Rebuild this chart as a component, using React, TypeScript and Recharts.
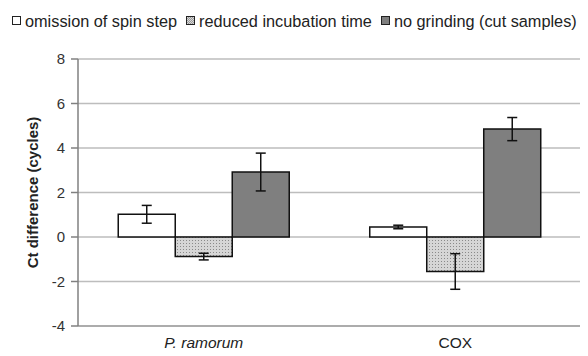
import React from 'react';
import { BarChart, Bar, XAxis, YAxis, CartesianGrid, ErrorBar, Label } from 'recharts';

const categories = ['P. ramorum', 'COX'];
const spinStep = [1.02, 0.45];
const spinStepErr = [0.4, 0.08];
const incubation = [-0.88, -1.55];
const incubationErr = [0.15, 0.8];
const grinding = [2.92, 4.85];
const grindingErr = [0.85, 0.52];
const yTicks = [-4, -2, 0, 2, 4, 6, 8];
const legendLabels = ['omission of spin step', 'reduced incubation time', 'no grinding (cut samples)'];

const data = categories.map((name, i) => ({
  name,
  spin: spinStep[i],
  spinErr: spinStepErr[i],
  incub: incubation[i],
  incubErr: incubationErr[i],
  grind: grinding[i],
  grindErr: grindingErr[i],
}));

const FONT = '"Liberation Sans", Arial, Helvetica, sans-serif';

const CategoryTick = (props: any) => {
  const { x, y, payload } = props;
  const italic = payload.value === 'P. ramorum';
  return (
    <text
      x={x}
      y={y + 14}
      textAnchor="middle"
      fontSize={15.5}
      fontFamily={FONT}
      fontStyle={italic ? 'italic' : 'normal'}
      fill="#222"
    >
      {payload.value}
    </text>
  );
};

const swatch = (bg: string) => ({
  display: 'inline-block',
  width: 7,
  height: 7,
  border: '1.5px solid #222',
  background: bg,
  marginRight: 4,
  verticalAlign: 'middle',
});

const dotted = 'repeating-conic-gradient(#9a9a9a 0% 25%, #d8d8d8 0% 50%) 0 0 / 2px 2px';

const App: React.FC = () => {
  return (
    <div style={{ position: 'relative', width: 588, height: 356, margin: -8, background: '#fff', fontFamily: FONT }}>
      <div
        style={{
          position: 'absolute',
          top: 10,
          left: 12,
          fontSize: 16.3,
          color: '#222',
          whiteSpace: 'nowrap',
          lineHeight: '18px',
        }}
      >
        {legendLabels.map((l, i) => (
          <span key={l} style={{ marginRight: 9 }}>
            <span style={swatch(i === 0 ? '#fff' : i === 1 ? dotted : '#7f7f7f')} />
            <span style={{ verticalAlign: 'middle' }}>{l}</span>
          </span>
        ))}
      </div>
      <BarChart
        width={588}
        height={356}
        data={data}
        margin={{ top: 59, right: 7, left: 0, bottom: 0 }}
        barCategoryGap="16%"
        barGap={0}
      >
        <defs>
          <pattern id="dots" width="3" height="3" patternUnits="userSpaceOnUse">
            <rect width="3" height="3" fill="#d6d6d6" />
            <rect width="1" height="1" fill="#8a8a8a" />
          </pattern>
        </defs>
        <CartesianGrid vertical={false} stroke="#bdbdbd" strokeWidth={1.5} />
        <XAxis
          dataKey="name"
          height={30}
          axisLine={{ stroke: '#a0a0a0', strokeWidth: 1.5 }}
          tickLine={false}
          tick={<CategoryTick />}
        />
        <YAxis
          width={78}
          domain={[-4, 8]}
          ticks={yTicks}
          axisLine={{ stroke: '#808080', strokeWidth: 1.5 }}
          tickLine={{ stroke: '#808080', strokeWidth: 1.5 }}
          tickSize={7}
          tickMargin={6}
          tick={{ fontSize: 15, fill: '#333', fontFamily: FONT }}
        >
          <Label
            value="Ct difference (cycles)"
            angle={-90}
            position="insideLeft"
            offset={33}
            style={{ textAnchor: 'middle', fontSize: 15, fontWeight: 'bold', fill: '#222', fontFamily: FONT }}
          />
        </YAxis>
        <YAxis
          yAxisId="right"
          orientation="right"
          width={0}
          tick={false}
          tickLine={false}
          axisLine={{ stroke: '#a0a0a0', strokeWidth: 1.5 }}
        />
        <Bar dataKey="spin" fill="#fff" stroke="#111" strokeWidth={1.5} isAnimationActive={false}>
          <ErrorBar dataKey="spinErr" width={5} stroke="#111" strokeWidth={1.5} />
        </Bar>
        <Bar dataKey="incub" fill="url(#dots)" stroke="#111" strokeWidth={1.5} isAnimationActive={false}>
          <ErrorBar dataKey="incubErr" width={5} stroke="#111" strokeWidth={1.5} />
        </Bar>
        <Bar dataKey="grind" fill="#7f7f7f" stroke="#111" strokeWidth={1.5} isAnimationActive={false}>
          <ErrorBar dataKey="grindErr" width={5} stroke="#111" strokeWidth={1.5} />
        </Bar>
      </BarChart>
    </div>
  );
};

export default App;
